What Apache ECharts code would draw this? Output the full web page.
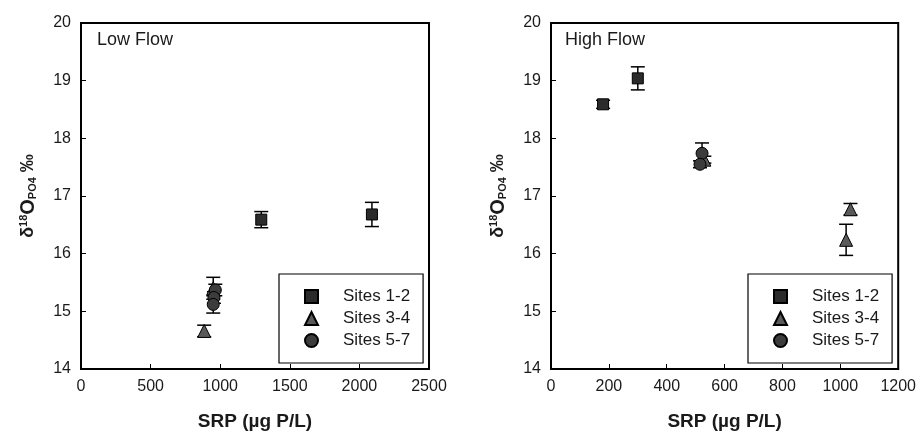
<!DOCTYPE html>
<html>
<head>
<meta charset="utf-8">
<script src="https://cdn.jsdelivr.net/npm/echarts@6/dist/echarts.min.js"></script>
<style>
  html, body { margin: 0; padding: 0; background: #fff; }
  #chart { width: 919px; height: 436px; }
</style>
</head>
<body>
<div id="chart"></div>
<script>
// series names
const siteNames = ['Sites 1-2', 'Sites 3-4', 'Sites 5-7']

// low flow: SRP, delta18O, error
const lowSrp1 = [1295, 2090]
const lowD18O1 = [16.59, 16.68]
const lowErr1 = [0.14, 0.21]
const lowSrp2 = [885, 950]
const lowD18O2 = [14.66, 15.40]
const lowErr2 = [0.10, 0.19]
const lowSrp3 = [965, 955, 950]
const lowD18O3 = [15.37, 15.24, 15.12]
const lowErr3 = [0.10, 0.10, 0.15]

// high flow
const highSrp1 = [180, 300]
const highD18O1 = [18.59, 19.04]
const highErr1 = [0.07, 0.20]
const highSrp2 = [530, 1020, 1035]
const highD18O2 = [17.63, 16.24, 16.77]
const highErr2 = [0.06, 0.27, 0.10]
const highSrp3 = [522, 515]
const highD18O3 = [17.74, 17.55]
const highErr3 = [0.18, 0.06]

const yTicks = { min: 14, max: 20, interval: 1 }
const lowXTicks = { min: 0, max: 2500, interval: 500 }
const highXTicks = { min: 0, max: 1200, interval: 200 }

const font = 'Liberation Sans, Arial, sans-serif'
const symbols = ['rect', 'triangle', 'circle']
const fills = ['#2b2b2b', '#5a5a5a', '#3c3c3c']
const sizes = [11, 13, 12]

const chart = echarts.init(document.getElementById('chart'))

function errSeries(idx, xs, ys, es, gi) {
  return {
    type: 'custom',
    name: 'err' + gi + idx,
    xAxisIndex: gi,
    yAxisIndex: gi,
    silent: true,
    z: 1,
    encode: { x: 0, y: [1, 2] },
    data: xs.map((x, i) => [x, ys[i] - es[i], ys[i] + es[i]]),
    renderItem(params, api) {
      const x = api.value(0)
      const lo = api.coord([x, api.value(1)])
      const hi = api.coord([x, api.value(2)])
      const w = 7
      const style = { stroke: '#000', lineWidth: 1.5 }
      return {
        type: 'group',
        children: [
          { type: 'line', shape: { x1: lo[0], y1: lo[1], x2: hi[0], y2: hi[1] }, style },
          { type: 'line', shape: { x1: lo[0] - w, y1: lo[1], x2: lo[0] + w, y2: lo[1] }, style },
          { type: 'line', shape: { x1: hi[0] - w, y1: hi[1], x2: hi[0] + w, y2: hi[1] }, style }
        ]
      }
    }
  }
}

function pointSeries(idx, xs, ys, gi) {
  return {
    type: 'scatter',
    name: siteNames[idx],
    xAxisIndex: gi,
    yAxisIndex: gi,
    z: 3,
    symbol: symbols[idx],
    symbolSize: sizes[idx],
    itemStyle: { color: fills[idx], borderColor: '#000', borderWidth: 1, opacity: 1 },
    data: xs.map((x, i) => [x, ys[i]])
  }
}

function xAxisFor(gi, ticks) {
  return {
    type: 'value',
    gridIndex: gi,
    min: ticks.min, max: ticks.max, interval: ticks.interval,
    name: 'SRP (µg P/L)',
    nameLocation: 'middle',
    nameGap: 43,
    nameTextStyle: { fontFamily: font, fontWeight: 'bold', fontSize: 19, color: '#1a1a1a' },
    axisLine: { lineStyle: { color: '#000', width: 2 } },
    axisTick: { inside: true, length: 5, lineStyle: { color: '#000', width: 1 } },
    axisLabel: { fontFamily: font, fontSize: 16, color: '#1a1a1a', margin: 10, formatter: v => String(v) },
    splitLine: { show: false }
  }
}

function yAxisFor(gi) {
  return {
    type: 'value',
    gridIndex: gi,
    min: yTicks.min, max: yTicks.max, interval: yTicks.interval,
    name: '{d|δ}{sup|18}{o|O}{sub|PO4}{d| ‰}',
    nameLocation: 'middle',
    nameGap: 42,
    nameRotate: 90,
    nameTextStyle: {
      fontFamily: font, fontWeight: 'bold', color: '#1a1a1a',
      rich: {
        d: { fontFamily: font, fontWeight: 'bold', fontSize: 18, color: '#1a1a1a' },
        o: { fontFamily: font, fontWeight: 'bold', fontSize: 20, color: '#1a1a1a' },
        sup: { fontFamily: font, fontWeight: 'bold', fontSize: 11, color: '#1a1a1a', padding: [0, 0, 10, 0] },
        sub: { fontFamily: font, fontWeight: 'bold', fontSize: 11, color: '#1a1a1a', padding: [8, 0, 0, 0] }
      }
    },
    axisLine: { lineStyle: { color: '#000', width: 2 } },
    axisTick: { inside: true, length: 5, lineStyle: { color: '#000', width: 1 } },
    axisLabel: { fontFamily: font, fontSize: 16, color: '#1a1a1a', margin: 10 },
    splitLine: { show: false }
  }
}

function legendFor(left) {
  return {
    orient: 'vertical',
    left: left,
    top: 274,
    data: siteNames,
    itemWidth: 13,
    itemHeight: 13,
    itemGap: 5,
    padding: [14, 13, 14, 25],
    borderColor: '#000',
    borderWidth: 1.2,
    selectedMode: false,
    textStyle: { fontFamily: font, fontSize: 17, color: '#1a1a1a', padding: [0, 0, 0, 20] }
  }
}

const option = {
  animation: false,
  backgroundColor: '#fff',
  title: [
    { text: 'Low Flow', left: 92, top: 26, textStyle: { fontFamily: font, fontWeight: 'normal', fontSize: 18, color: '#1a1a1a' } },
    { text: 'High Flow', left: 560, top: 26, textStyle: { fontFamily: font, fontWeight: 'normal', fontSize: 18, color: '#1a1a1a' } }
  ],
  grid: [
    { left: 81, top: 23, width: 348, height: 347, show: true, borderColor: '#000', borderWidth: 2, backgroundColor: 'transparent' },
    { left: 551, top: 23, width: 348, height: 347, show: true, borderColor: '#000', borderWidth: 2, backgroundColor: 'transparent' }
  ],
  xAxis: [xAxisFor(0, lowXTicks), xAxisFor(1, highXTicks)],
  yAxis: [yAxisFor(0), yAxisFor(1)],
  legend: [legendFor(279), legendFor(748)],
  series: [
    errSeries(0, lowSrp1, lowD18O1, lowErr1, 0),
    errSeries(1, lowSrp2, lowD18O2, lowErr2, 0),
    errSeries(2, lowSrp3, lowD18O3, lowErr3, 0),
    pointSeries(0, lowSrp1, lowD18O1, 0),
    pointSeries(1, lowSrp2, lowD18O2, 0),
    pointSeries(2, lowSrp3, lowD18O3, 0),
    errSeries(0, highSrp1, highD18O1, highErr1, 1),
    errSeries(1, highSrp2, highD18O2, highErr2, 1),
    errSeries(2, highSrp3, highD18O3, highErr3, 1),
    pointSeries(0, highSrp1, highD18O1, 1),
    pointSeries(1, highSrp2, highD18O2, 1),
    pointSeries(2, highSrp3, highD18O3, 1)
  ]
}

chart.setOption(option)
</script>
</body>
</html>
